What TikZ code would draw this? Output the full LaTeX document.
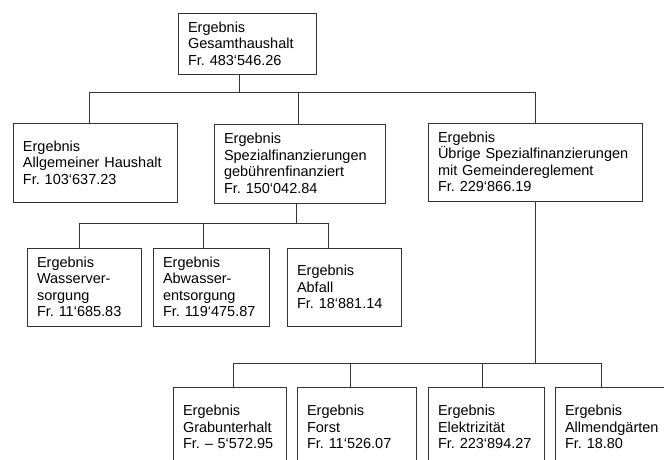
\documentclass[tikz,border=0pt]{standalone}
\usepackage{fontspec}
\setmainfont{Liberation Sans}
\hyphenpenalty=10000
\frenchspacing

\begin{document}
\begin{tikzpicture}[x=1pt, y=-1pt,
		kasten/.style={draw=black!80, line width=0.8pt, align=left, inner xsep=10pt, inner ysep=0pt,
			font=\fontsize{14.5}{16.5}\selectfont},
		linie/.style={draw=black!80, line width=0.8pt}]
	\useasboundingbox (0,0) rectangle (664,460);

	\node[kasten, text width=118pt, minimum height=61pt] (ges) at (247,43.5) {Ergebnis\\Gesamthaushalt\\Fr. 483‘546.26};

	\node[kasten, text width=144pt, minimum height=79pt] (allg) at (95,162.5) {Ergebnis\\Allgemeiner Haushalt\\Fr. 103‘637.23};
	\node[kasten, text width=151pt, minimum height=79pt] (spez) at (299.5,163.5) {Ergebnis\\Spezialfinanzierungen\\gebührenfinanziert\\Fr. 150‘042.84};
	\node[kasten, text width=194pt, minimum height=78pt] (uebr) at (535,162) {Ergebnis\\Übrige Spezialfinanzierungen\\mit Gemeindereglement\\Fr. 229‘866.19};

	\node[kasten, text width=94pt, minimum height=78pt] (wass) at (84,287) {Ergebnis\\Wasserver-\\sorgung\\Fr. 11‘685.83};
	\node[kasten, text width=96pt, minimum height=78pt] (abw) at (211,287) {Ergebnis\\Abwasser-\\entsorgung\\Fr. 119‘475.87};
	\node[kasten, text width=94pt, minimum height=78pt] (abf) at (344,287) {Ergebnis\\Abfall\\Fr. 18‘881.14};

	\node[kasten, text width=93pt, minimum height=80pt] (grab) at (229.5,427) {Ergebnis\\Grabunterhalt\\Fr. – 5‘572.95};
	\node[kasten, text width=99pt, minimum height=80pt] (forst) at (356.5,427) {Ergebnis\\Forst\\Fr. 11‘526.07};
	\node[kasten, text width=96pt, minimum height=80pt] (elek) at (486,427) {Ergebnis\\Elektrizität\\Fr. 223‘894.27};
	\node[kasten, text width=100pt, minimum height=80pt] (allm) at (615,427) {Ergebnis\\Allmendgärten\\Fr. 18.80};

	\draw[linie] ([xshift=-8pt]ges.south) -- ++(0pt,-18pt) coordinate (bus0);
	\draw[linie] (bus0) -| ([xshift=-6pt]allg.north);
	\draw[linie] (bus0) -| ([xshift=-1.5pt]spez.north);
	\draw[linie] (bus0) -| (uebr.north);

	\draw[linie] ([xshift=-3.5pt]spez.south) -- ++(0pt,-20pt) coordinate (bus1);
	\draw[linie] (bus1) -| ([xshift=-5pt]wass.north);
	\draw[linie] (bus1) -| ([xshift=-8pt]abw.north);
	\draw[linie] (bus1) -| ([xshift=-16pt]abf.north);

	\draw[linie] (uebr.south) -- ++(0pt,-162pt) coordinate (bus2);
	\draw[linie] (bus2) -| ([xshift=3.5pt]grab.north);
	\draw[linie] (bus2) -| ([xshift=-6.5pt]forst.north);
	\draw[linie] (bus2) -| ([xshift=-4pt]elek.north);
	\draw[linie] (bus2) -| ([xshift=-14pt]allm.north);
\end{tikzpicture}
\end{document}
